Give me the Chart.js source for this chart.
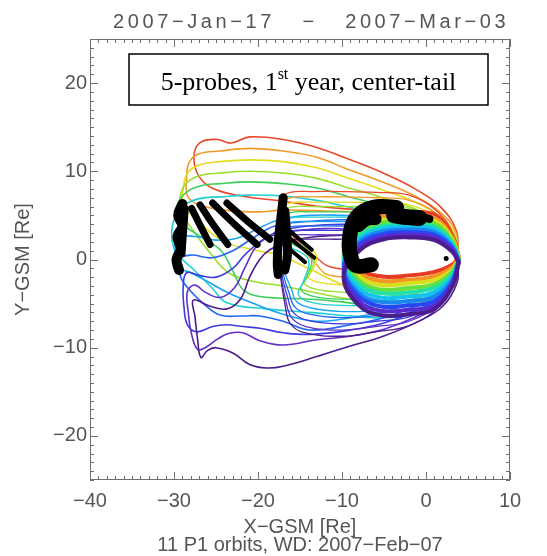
<!DOCTYPE html>
<html>
<head>
<meta charset="utf-8">
<script src="https://cdn.jsdelivr.net/npm/chart.js@4.4.1/dist/chart.umd.min.js"></script>
<style>
  html, body { margin: 0; padding: 0; background: #fff; }
  canvas { display: block; }
</style>
</head>
<body>
<canvas id="orbits" width="547" height="556"></canvas>
<script>
// texts
const dateRange = '2007\u2212Jan\u221217   \u2212   2007\u2212Mar\u221203';
const xTitle = 'X\u2212GSM [Re]';
const yTitle = 'Y\u2212GSM [Re]';
const footNote = '11 P1 orbits, WD: 2007\u2212Feb\u221207';
const noteText = ['5-probes, 1', 'st', ' year, center-tail'];

// tick labels
const xTicks = [-40, -30, -20, -10, 0, 10];
const yTicks = [-20, -10, 0, 10, 20];

// P1 orbits, purple (Jan 17) to red (Mar 03), points [x, y] in Re
const p1Orbit0 = [[3.8,-0.3],[3.7,-2.6],[2.0,-5.3],[-1.1,-7.1],[-5.1,-8.7],[-9.0,-9.8],[-13.0,-11.0],[-17.0,-12.1],[-19.0,-12.3],[-21.0,-11.9],[-23.0,-10.6],[-25.0,-10.0],[-26.0,-10.3],[-26.8,-11.1],[-27.2,-9.0],[-27.5,-6.5],[-27.7,-4.6],[-25.7,-5.3],[-23.7,-5.6],[-22.1,-4.5],[-21.0,-2.0],[-19.8,0.0],[-18.6,1.1],[-16.5,2.0],[-13.0,2.6],[-8.0,2.8],[-4.0,2.9],[0.0,2.7],[2.0,2.0],[3.5,0.8],[3.8,-0.3]];
const p1Orbit1 = [[3.8,-0.3],[3.6,-2.3],[1.8,-4.8],[-1.2,-6.5],[-5.0,-7.9],[-9.0,-8.7],[-13.0,-9.1],[-17.0,-9.7],[-19.8,-9.2],[-21.8,-8.3],[-23.5,-8.4],[-24.8,-9.0],[-26.3,-10.0],[-27.2,-10.2],[-27.9,-8.5],[-28.3,-6.0],[-28.4,-3.6],[-27.5,-2.9],[-26.3,-3.7],[-24.5,-4.3],[-22.8,-3.2],[-21.5,-0.8],[-20.2,1.5],[-18.6,2.6],[-16.0,3.2],[-12.0,3.5],[-8.0,3.4],[-4.0,3.3],[0.0,3.1],[2.0,2.4],[3.5,1.0],[3.8,-0.3]];
const p1Orbit2 = [[3.8,-0.3],[3.6,-2.1],[1.6,-4.4],[-1.3,-5.9],[-5.0,-7.2],[-9.0,-8.0],[-13.8,-8.5],[-17.0,-8.3],[-19.8,-7.8],[-21.8,-7.6],[-23.8,-7.4],[-25.4,-7.6],[-27.3,-8.2],[-28.4,-7.4],[-28.8,-5.5],[-28.9,-3.0],[-28.5,-1.5],[-27.0,-1.8],[-25.0,-2.0],[-23.0,-1.0],[-21.5,0.6],[-19.5,2.2],[-17.5,3.2],[-14.0,3.8],[-10.0,4.0],[-6.0,3.8],[-2.0,3.5],[1.5,2.8],[3.5,1.2],[3.8,-0.3]];
const p1Orbit3 = [[3.8,-0.3],[3.6,-1.9],[1.5,-4.0],[-1.5,-5.4],[-5.0,-6.6],[-9.0,-7.4],[-13.8,-8.0],[-17.0,-7.0],[-19.8,-6.4],[-22.0,-6.4],[-24.5,-6.3],[-26.5,-5.0],[-28.0,-3.6],[-29.2,-2.0],[-29.4,0.0],[-28.0,0.5],[-25.5,0.2],[-23.0,1.0],[-20.5,2.5],[-18.0,3.8],[-14.0,4.3],[-10.0,4.5],[-6.0,4.3],[-2.0,4.0],[1.5,3.1],[3.5,1.3],[3.8,-0.3]];
const p1Orbit4 = [[3.8,-0.3],[3.6,-1.7],[1.5,-3.6],[-1.5,-4.9],[-5.0,-5.9],[-9.0,-6.6],[-13.0,-7.0],[-17.0,-6.2],[-20.5,-5.0],[-23.5,-3.8],[-26.0,-2.5],[-28.0,-1.5],[-29.6,-0.8],[-29.9,1.0],[-29.5,2.5],[-27.5,2.6],[-25.0,2.2],[-22.5,2.4],[-20.0,3.5],[-17.5,4.5],[-14.0,5.0],[-10.0,5.0],[-6.0,4.8],[-2.0,4.5],[1.5,3.4],[3.5,1.5],[3.8,-0.3]];
const p1Orbit5 = [[3.8,0.3],[3.5,1.8],[1.5,3.2],[-1.5,4.2],[-5.5,5.2],[-9.5,6.0],[-13.0,6.7],[-17.0,7.2],[-21.0,7.3],[-24.5,7.1],[-27.0,6.9],[-29.0,6.0],[-30.1,4.2],[-30.2,2.0],[-29.5,0.5],[-27.7,-1.1],[-25.5,-3.2],[-23.7,-4.9],[-19.0,-5.6],[-13.8,-6.0],[-9.0,-6.4],[-5.0,-6.6],[-1.0,-6.0],[2.0,-4.2],[3.5,-1.6],[3.8,0.3]];
const p1Orbit6 = [[3.8,0.3],[3.5,2.2],[1.5,3.9],[-1.5,5.1],[-5.5,6.2],[-9.5,7.2],[-13.0,8.1],[-17.0,8.6],[-21.0,8.8],[-24.5,8.6],[-27.0,8.3],[-28.8,7.4],[-29.7,5.8],[-29.6,4.5],[-27.5,3.0],[-24.5,1.1],[-23.0,-1.3],[-21.8,-3.4],[-19.8,-4.2],[-13.8,-4.5],[-10.0,-4.8],[-5.0,-5.4],[-1.0,-5.0],[2.0,-3.4],[3.5,-1.3],[3.8,0.3]];
const p1Orbit7 = [[3.8,0.3],[3.5,2.5],[1.5,4.4],[-1.5,5.8],[-5.5,7.1],[-9.5,8.2],[-13.0,9.2],[-17.0,9.8],[-21.0,10.0],[-24.5,9.8],[-27.0,9.5],[-28.6,8.6],[-29.3,7.0],[-29.2,5.5],[-27.5,3.0],[-25.5,0.5],[-23.5,-1.5],[-20.5,-2.5],[-17.0,-3.0],[-13.0,-3.8],[-9.0,-4.5],[-5.0,-4.8],[-1.0,-4.4],[2.0,-3.0],[3.5,-1.2],[3.8,0.3]];
const p1Orbit8 = [[3.8,0.3],[3.5,2.8],[1.5,5.0],[-1.5,6.6],[-5.5,8.0],[-9.5,9.3],[-13.0,10.4],[-17.0,11.1],[-21.0,11.3],[-24.5,11.1],[-27.0,10.7],[-28.4,9.8],[-28.9,8.0],[-28.9,6.3],[-26.5,3.8],[-24.0,2.0],[-20.0,1.0],[-17.5,0.5],[-14.0,-1.0],[-10.0,-2.8],[-6.0,-3.6],[-2.0,-3.6],[1.5,-2.6],[3.3,-1.2],[3.8,0.3]];
const p1Orbit9 = [[3.8,0.3],[3.5,3.2],[1.5,5.5],[-1.5,7.3],[-5.5,8.9],[-9.5,10.3],[-13.0,11.6],[-17.0,12.3],[-21.0,12.6],[-24.5,12.3],[-27.0,12.0],[-28.2,11.0],[-28.5,9.0],[-28.4,7.2],[-27.0,6.2],[-24.0,5.6],[-20.0,5.4],[-17.0,5.6],[-12.0,5.5],[-7.0,5.3],[-3.0,4.8],[1.2,3.2],[3.8,0.3]];
const p1Orbit10 = [[3.8,0.3],[3.6,3.3],[1.7,6.0],[-1.1,7.9],[-5.1,9.8],[-9.0,11.3],[-13.0,12.7],[-17.0,13.6],[-21.0,13.9],[-23.2,13.2],[-24.8,13.6],[-26.6,13.4],[-27.5,12.4],[-27.5,10.5],[-26.6,8.9],[-25.0,7.9],[-22.0,7.2],[-17.0,6.6],[-12.6,6.0],[-7.9,5.6],[-3.1,5.0],[1.2,3.4],[3.8,0.3]];

// P2 orbits
const p2Orbit0 = [[3.8,0.2],[3.3,1.1],[1.5,2.1],[-2.0,2.5],[-6.0,2.4],[-10.0,2.3],[-13.5,2.3],[-16.2,2.2],[-17.2,1.5],[-17.5,-0.1],[-17.3,-2.0],[-16.8,-5.0],[-16.2,-7.2],[-14.5,-8.3],[-10.0,-8.7],[-6.0,-8.2],[-2.0,-7.5],[1.5,-5.4],[3.3,-2.6],[3.8,0.2]];
const p2Orbit1 = [[3.8,0.2],[3.3,1.2],[1.5,2.4],[-2.0,3.0],[-6.0,2.9],[-10.0,2.8],[-13.5,2.8],[-16.2,2.7],[-17.2,2.0],[-17.5,0.4],[-17.3,-1.8],[-16.7,-4.6],[-16.0,-6.6],[-14.3,-7.6],[-10.0,-8.0],[-6.0,-7.6],[-2.0,-7.0],[1.5,-5.0],[3.3,-2.4],[3.8,0.2]];
const p2Orbit2 = [[3.8,0.2],[3.3,1.4],[1.5,2.7],[-2.0,3.4],[-6.0,3.4],[-10.0,3.3],[-13.5,3.3],[-16.2,3.2],[-17.2,2.5],[-17.5,0.9],[-17.2,-1.6],[-16.5,-4.2],[-15.8,-6.0],[-14.1,-6.9],[-10.0,-7.3],[-6.0,-7.0],[-2.0,-6.5],[1.5,-4.7],[3.3,-2.2],[3.8,0.2]];
const p2Orbit3 = [[3.8,0.2],[3.3,1.5],[1.5,3.0],[-2.0,3.8],[-6.0,3.9],[-10.0,3.8],[-13.5,3.8],[-16.2,3.7],[-17.2,3.0],[-17.5,1.4],[-17.1,-1.3],[-16.3,-3.8],[-15.6,-5.4],[-13.9,-6.2],[-10.0,-6.6],[-6.0,-6.4],[-2.0,-6.0],[1.5,-4.3],[3.3,-2.1],[3.8,0.2]];
const p2Orbit4 = [[3.8,0.2],[3.3,1.7],[1.5,3.3],[-2.0,4.3],[-6.0,4.3],[-10.0,4.3],[-13.5,4.3],[-16.2,4.2],[-17.2,3.5],[-17.5,1.9],[-17.0,-1.0],[-16.0,-3.4],[-15.4,-4.8],[-13.7,-5.5],[-10.0,-5.9],[-6.0,-5.8],[-2.0,-5.5],[1.5,-4.0],[3.3,-1.9],[3.8,0.2]];
const p2Orbit5 = [[3.8,0.2],[3.3,1.8],[1.5,3.6],[-2.0,4.7],[-6.0,4.8],[-10.0,4.8],[-13.5,4.8],[-16.2,4.7],[-17.2,4.0],[-17.5,2.4],[-16.3,1.5],[-14.0,0.0],[-14.6,-2.5],[-15.2,-4.0],[-13.5,-4.9],[-10.0,-5.2],[-6.0,-5.2],[-2.0,-5.0],[1.5,-3.6],[3.3,-1.7],[3.8,0.2]];
const p2Orbit6 = [[3.8,0.2],[3.3,2.0],[1.5,3.9],[-2.0,5.3],[-6.0,5.4],[-10.0,5.4],[-13.5,5.4],[-16.2,5.3],[-17.2,4.6],[-17.5,3.0],[-16.3,2.0],[-13.7,0.3],[-14.2,-2.0],[-14.9,-3.4],[-13.3,-4.2],[-10.0,-4.5],[-6.0,-4.6],[-2.0,-4.6],[1.5,-3.3],[3.3,-1.5],[3.8,0.2]];
const p2Orbit7 = [[3.8,0.2],[3.3,2.2],[1.5,4.3],[-2.0,5.8],[-6.0,6.0],[-10.0,6.0],[-13.5,6.0],[-16.2,5.9],[-17.2,5.2],[-17.5,3.6],[-16.3,2.5],[-13.4,0.5],[-13.8,-1.5],[-14.5,-2.7],[-13.0,-3.4],[-10.0,-3.7],[-6.0,-3.9],[-2.0,-4.0],[1.5,-2.9],[3.3,-1.3],[3.8,0.2]];
const p2Orbit8 = [[3.8,0.2],[3.3,2.4],[1.5,4.6],[-2.0,6.2],[-6.0,6.4],[-10.0,6.5],[-13.5,6.5],[-16.2,6.4],[-17.2,5.7],[-17.5,4.1],[-16.3,3.0],[-13.1,0.6],[-13.4,-1.0],[-14.0,-2.0],[-12.7,-2.6],[-10.0,-2.9],[-6.0,-3.3],[-2.0,-3.4],[1.5,-2.5],[3.3,-1.1],[3.8,0.2]];
const p2Orbit9 = [[3.8,0.2],[3.3,2.5],[1.5,5.0],[-2.0,6.7],[-6.0,7.0],[-10.0,7.1],[-13.5,7.1],[-16.2,7.0],[-17.2,6.3],[-17.5,4.7],[-16.5,3.0],[-14.8,1.2],[-13.0,-0.6],[-12.0,-1.6],[-10.0,-2.0],[-6.0,-2.5],[-2.0,-2.8],[1.5,-2.0],[3.3,-0.9],[3.8,0.2]];
const p2Orbit10 = [[3.8,0.2],[3.3,2.7],[1.5,5.3],[-2.0,7.3],[-6.0,7.6],[-10.0,7.7],[-13.5,7.7],[-16.2,7.6],[-17.2,6.9],[-17.5,5.3],[-16.6,3.5],[-14.9,1.7],[-13.0,0.2],[-11.8,-0.7],[-10.0,-1.1],[-6.0,-1.7],[-2.0,-2.2],[1.5,-1.6],[3.3,-0.7],[3.8,0.2]];

// P3, P4, P5 orbits (inner ring)
const innerOrbit0 = [[3.9,-0.4],[3.1,0.9],[1.0,2.2],[-2.0,2.5],[-5.0,2.3],[-7.8,1.1],[-9.8,-1.9],[-8.1,-5.1],[-5.5,-6.3],[-2.0,-6.2],[1.0,-5.6],[3.1,-3.1],[3.9,-0.4]];
const innerOrbit1 = [[3.9,-0.3],[3.1,1.1],[1.0,2.5],[-2.0,2.8],[-5.0,2.6],[-7.8,1.4],[-9.8,-1.5],[-8.1,-4.6],[-5.5,-5.8],[-2.0,-5.7],[1.0,-5.2],[3.1,-2.8],[3.9,-0.3]];
const innerOrbit2 = [[3.9,-0.2],[3.1,1.3],[1.0,2.8],[-2.0,3.1],[-5.0,2.9],[-7.8,1.8],[-9.8,-1.1],[-8.1,-4.1],[-5.5,-5.3],[-2.0,-5.2],[1.0,-4.7],[3.1,-2.6],[3.9,-0.2]];
const innerOrbit3 = [[3.9,-0.1],[3.1,1.5],[1.0,3.1],[-2.0,3.4],[-5.0,3.2],[-7.8,2.1],[-9.8,-0.7],[-8.1,-3.7],[-5.5,-4.8],[-2.0,-4.7],[1.0,-4.2],[3.1,-2.3],[3.9,-0.1]];
const innerOrbit4 = [[3.9,-0.1],[3.1,1.7],[1.0,3.4],[-2.0,3.7],[-5.0,3.5],[-7.8,2.4],[-9.8,-0.3],[-8.1,-3.2],[-5.5,-4.3],[-2.0,-4.2],[1.0,-3.7],[3.1,-2.0],[3.9,-0.1]];
const innerOrbit5 = [[3.9,0.0],[3.1,1.9],[1.0,3.7],[-2.0,4.0],[-5.0,3.8],[-7.8,2.8],[-9.8,0.1],[-8.1,-2.7],[-5.5,-3.8],[-2.0,-3.7],[1.0,-3.2],[3.1,-1.7],[3.9,0.0]];
const innerOrbit6 = [[3.9,0.1],[3.1,2.1],[1.0,4.1],[-2.0,4.4],[-5.0,4.2],[-7.8,3.1],[-9.8,0.5],[-8.1,-2.3],[-5.5,-3.4],[-2.0,-3.2],[1.0,-2.8],[3.1,-1.4],[3.9,0.1]];
const innerOrbit7 = [[3.9,0.2],[3.1,2.3],[1.0,4.4],[-2.0,4.7],[-5.0,4.5],[-7.8,3.5],[-9.8,0.9],[-8.1,-1.8],[-5.5,-2.9],[-2.0,-2.7],[1.0,-2.3],[3.1,-1.2],[3.9,0.2]];
const innerOrbit8 = [[3.9,0.3],[3.1,2.5],[1.0,4.7],[-2.0,5.0],[-5.0,4.9],[-7.8,3.8],[-9.8,1.3],[-8.1,-1.4],[-5.5,-2.4],[-2.0,-2.3],[1.0,-1.9],[3.1,-0.9],[3.9,0.3]];
const innerOrbit9 = [[3.9,0.3],[3.1,2.7],[1.0,5.1],[-2.0,5.3],[-5.0,5.2],[-7.8,4.2],[-9.8,1.7],[-8.1,-0.9],[-5.5,-1.9],[-2.0,-1.8],[1.0,-1.4],[3.1,-0.6],[3.9,0.3]];

// black: center-tail segments
const p1ApogeeA = [[-29.0,6.3],[-29.5,5.0],[-29.0,3.8],[-29.6,2.6],[-29.2,1.2],[-29.7,0.0],[-29.4,-1.2]];
const p1ApogeeB = [[-28.6,5.8],[-28.8,3.2],[-29.0,0.6]];
const p1Bar1 = [[-27.9,5.8],[-26.8,3.7],[-25.7,1.7]];
const p1Bar2 = [[-26.9,6.2],[-25.3,3.9],[-23.6,1.7]];
const p1Bar3 = [[-25.4,6.4],[-22.8,4.0],[-20.1,1.7]];
const p1Bar4 = [[-23.7,6.4],[-21.2,4.3],[-18.6,2.3]];
const p2ApogeeA = [[-17.0,7.0],[-17.3,4.5],[-17.6,2.0],[-17.7,-0.5],[-17.6,-1.7]];
const p2ApogeeB = [[-16.8,5.5],[-16.6,3.0],[-16.5,0.5],[-16.8,-1.2]];
const p2Finger1 = [[-16.4,3.4],[-13.6,1.1]];
const p2Finger2 = [[-16.2,2.4],[-13.3,0.2]];
const p2Finger3 = [[-16.4,1.3],[-14.4,-0.3]];
const innerApogeeC = [[-6.5,-0.6],[-8.3,-0.7],[-9.0,0.5],[-9.1,2.5],[-8.6,4.3],[-7.4,5.5],[-5.6,6.0],[-3.5,5.9]];
const innerApogeeTop = [[-8.0,3.8],[-7.0,4.5],[-6.0,4.6]];
const innerWingA = [[-3.8,5.0],[-2.2,4.8],[-0.8,4.7]];
const innerWingB = [[-1.2,5.0],[0.4,4.6]];
const earthDot = [[2.4,0.1]];

const p1Orbits = [p1Orbit0, p1Orbit1, p1Orbit2, p1Orbit3, p1Orbit4, p1Orbit5, p1Orbit6, p1Orbit7, p1Orbit8, p1Orbit9, p1Orbit10];
const p2Orbits = [p2Orbit0, p2Orbit1, p2Orbit2, p2Orbit3, p2Orbit4, p2Orbit5, p2Orbit6, p2Orbit7, p2Orbit8, p2Orbit9, p2Orbit10];
const innerOrbits = [innerOrbit0, innerOrbit1, innerOrbit2, innerOrbit3, innerOrbit4, innerOrbit5, innerOrbit6, innerOrbit7, innerOrbit8, innerOrbit9];
const orbitColors = ['#4b1c8c', '#6430c8', '#3c3ce0', '#2468f0', '#18a4f0', '#1fd0d0', '#3ccf5a', '#9ade2e', '#e6dc1e', '#f29a28', '#e8482a'];
const innerColors = ['#4b1c8c', '#5a2ad0', '#2a46f0', '#1a86f0', '#12c4ee', '#22e0a6', '#66e03c', '#d8e01e', '#f49622', '#e83c22'];

const textColor = '#555';
const axisColor = '#707070';

function line(points, color, width, order) {
    return {
        data: points.map(([x, y]) => ({x, y})),
        showLine: true,
        borderColor: color,
        borderWidth: width,
        pointRadius: 0,
        tension: 0.4,
        fill: false,
        borderCapStyle: 'round',
        borderJoinStyle: 'round',
        order: order
    };
}

const datasets = [];
p1Orbits.forEach((o, i) => datasets.push(line(o, orbitColors[i], 1.6, 4)));
p2Orbits.forEach((o, i) => datasets.push(line(o, orbitColors[i], 1.3, 3)));
innerOrbits.forEach((o, i) => datasets.push(line(o, innerColors[i], 4, 2)));

[[p1ApogeeA, 10], [p1ApogeeB, 6], [p1Bar1, 7], [p1Bar2, 7], [p1Bar3, 7], [p1Bar4, 7],
 [p2ApogeeA, 9], [p2ApogeeB, 9], [p2Finger1, 4], [p2Finger2, 4], [p2Finger3, 4],
 [innerApogeeC, 15], [innerApogeeTop, 12], [innerWingA, 16], [innerWingB, 8]
].forEach(([pts, w]) => datasets.push(line(pts, '#000', w, 1)));

datasets.push({
    data: earthDot.map(([x, y]) => ({x, y})),
    showLine: false,
    pointRadius: 2.5,
    pointBackgroundColor: '#000',
    pointBorderWidth: 0,
    order: 0
});

const minus = v => String(v).replace('-', '\u2212');

// box with ticks pointing inwards, like the IDL frame
const frame = {
    id: 'frame',
    afterDatasetsDraw(chart) {
        const {ctx, chartArea: a, scales: {x, y}} = chart;
        ctx.save();
        ctx.strokeStyle = axisColor;
        ctx.lineWidth = 1;
        ctx.beginPath();
        ctx.rect(a.left + 0.5, a.top + 0.5, a.width - 1, a.height - 1);
        for (let v = x.min; v <= x.max; v++) {
            const px = Math.round(x.getPixelForValue(v)) + 0.5;
            const len = v % 10 === 0 ? 8 : 4;
            ctx.moveTo(px, a.bottom); ctx.lineTo(px, a.bottom - len);
            ctx.moveTo(px, a.top); ctx.lineTo(px, a.top + len);
        }
        for (let v = y.min; v <= y.max; v++) {
            const py = Math.round(y.getPixelForValue(v)) + 0.5;
            const len = v % 10 === 0 ? 8 : 4;
            ctx.moveTo(a.left, py); ctx.lineTo(a.left + len, py);
            ctx.moveTo(a.right, py); ctx.lineTo(a.right - len, py);
        }
        ctx.stroke();
        ctx.restore();
    }
};

// date range above the frame and the framed note
const labels = {
    id: 'labels',
    afterDraw(chart) {
        const {ctx, chartArea: a} = chart;
        ctx.save();
        ctx.fillStyle = textColor;
        ctx.font = '20px "Liberation Sans", Arial, sans-serif';
        ctx.textAlign = 'left';
        ctx.textBaseline = 'alphabetic';
        ctx.letterSpacing = '3.6px';
        ctx.fillText(dateRange, a.left + 23, a.top - 11);
        ctx.letterSpacing = '0px';

        const bx = a.left + 39, by = a.top + 15, bw = 359, bh = 51;
        ctx.fillStyle = '#fff';
        ctx.fillRect(bx, by, bw, bh);
        ctx.strokeStyle = '#000';
        ctx.lineWidth = 1.5;
        ctx.strokeRect(bx, by, bw, bh);

        const size = 26;
        const big = size + 'px "Liberation Serif", "Times New Roman", serif';
        const small = Math.round(size * 0.6) + 'px "Liberation Serif", "Times New Roman", serif';
        ctx.font = big;
        const w0 = ctx.measureText(noteText[0]).width;
        const w2 = ctx.measureText(noteText[2]).width;
        ctx.font = small;
        const w1 = ctx.measureText(noteText[1]).width;
        let tx = bx + (bw - w0 - w1 - w2) / 2;
        const base = by + 36;
        ctx.fillStyle = '#000';
        ctx.font = big;
        ctx.fillText(noteText[0], tx, base);
        tx += w0;
        ctx.font = small;
        ctx.fillText(noteText[1], tx, base - size * 0.42);
        tx += w1;
        ctx.font = big;
        ctx.fillText(noteText[2], tx, base);
        ctx.restore();
    }
};

Chart.defaults.font.family = '"Liberation Sans", Arial, sans-serif';

new Chart(document.getElementById('orbits').getContext('2d'), {
    type: 'scatter',
    data: {datasets: datasets},
    options: {
        responsive: false,
        animation: false,
        devicePixelRatio: 1,
        events: [],
        layout: {padding: {left: 0, right: 37, top: 39, bottom: 0}},
        plugins: {legend: {display: false}, tooltip: {enabled: false}},
        scales: {
            x: {
                type: 'linear',
                position: 'bottom',
                min: -40,
                max: 10,
                afterBuildTicks: s => { s.ticks = xTicks.map(v => ({value: v})); },
                afterFit: s => { s.height = 76; s.paddingLeft = 0; s.paddingRight = 0; },
                grid: {display: false, drawTicks: false},
                border: {display: false},
                ticks: {color: textColor, font: {size: 20}, padding: 9, maxRotation: 0, autoSkip: false, callback: v => minus(v)},
                title: {display: true, text: [xTitle, footNote], color: textColor, font: {size: 20, lineHeight: 0.9}, padding: {top: 0, bottom: 2}}
            },
            y: {
                type: 'linear',
                min: -25,
                max: 25,
                afterBuildTicks: s => { s.ticks = yTicks.map(v => ({value: v})); },
                afterFit: s => { s.width = 90; s.paddingTop = 0; s.paddingBottom = 0; },
                grid: {display: false, drawTicks: false},
                border: {display: false},
                ticks: {color: textColor, font: {size: 20}, padding: 3, autoSkip: false, callback: v => minus(v)},
                title: {display: true, text: yTitle, color: textColor, font: {size: 20}, padding: {top: 11, bottom: 0}}
            }
        }
    },
    plugins: [frame, labels]
});
</script>
</body>
</html>
